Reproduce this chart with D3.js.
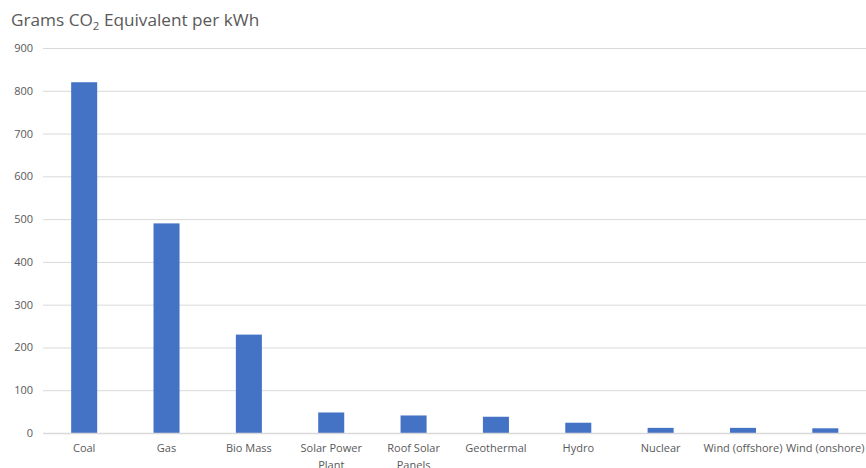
<!DOCTYPE html>
<html>
<head>
<meta charset="utf-8">
<script src="https://cdn.jsdelivr.net/npm/d3@7"></script>
<style>
  html, body { margin: 0; padding: 0; background: #fff; }
  svg { display: block; font-family: "Open Sans", "Noto Sans", sans-serif; }
</style>
</head>
<body>
<svg id="chart" width="866" height="468"></svg>
<script>
// Life-cycle emissions by generation source
const categories = ["Coal", "Gas", "Bio Mass", "Solar Power Plant", "Roof Solar Panels",
                    "Geothermal", "Hydro", "Nuclear", "Wind (offshore)", "Wind (onshore)"];
const emissions = [820, 490, 230, 48, 41, 38, 24, 12, 12, 11];
const yTicks = [0, 100, 200, 300, 400, 500, 600, 700, 800, 900];

const width = 866, height = 468;
const margin = { top: 48, right: 0, bottom: 35, left: 43 };
const textColor = "#595959";

const svg = d3.select("#chart");

const x = d3.scaleBand()
  .domain(categories)
  .range([margin.left, 866.5])
  .paddingInner(0.684)
  .paddingOuter(0.342);

const y = d3.scaleLinear()
  .domain([0, 900])
  .range([height - margin.bottom, margin.top]);

// Title with subscript
const title = svg.append("text")
  .attr("x", 11)
  .attr("y", 26)
  .attr("fill", textColor)
  .attr("font-size", 17.2);
title.append("tspan").text("Grams CO");
title.append("tspan").attr("font-size", 11.5).attr("dy", 4).text("2");
title.append("tspan").attr("dy", -4).text(" Equivalent per kWh");

// Horizontal gridlines and y tick labels
const yAxis = d3.axisLeft(y)
  .tickValues(yTicks)
  .tickSize(-(width - margin.left))
  .tickPadding(10);

const yg = svg.append("g")
  .attr("transform", `translate(${margin.left},0)`)
  .call(yAxis);
yg.select(".domain").remove();
yg.selectAll(".tick line")
  .attr("stroke", "#d9d9d9")
  .attr("stroke-width", 1);
yg.selectAll(".tick text")
  .attr("fill", textColor)
  .attr("font-size", 11)
  .attr("font-family", "'Open Sans', 'Noto Sans', sans-serif");

// Bars
svg.append("g")
  .selectAll("rect")
  .data(categories)
  .join("rect")
  .attr("x", d => x(d))
  .attr("width", x.bandwidth())
  .attr("y", (d, i) => y(emissions[i]))
  .attr("height", (d, i) => y(0) - y(emissions[i]))
  .attr("fill", "#4472c4");

// Baseline
svg.append("line")
  .attr("x1", margin.left)
  .attr("x2", width)
  .attr("y1", y(0) + 0.5)
  .attr("y2", y(0) + 0.5)
  .attr("stroke", "#d9d9d9")
  .attr("stroke-width", 1.5);

// Category axis; labels wider than the band wrap onto a second line
const xAxis = d3.axisBottom(x).tickSize(0).tickPadding(11);
const xg = svg.append("g")
  .attr("transform", `translate(0,${y(0)})`)
  .call(xAxis);
xg.select(".domain").remove();
xg.selectAll(".tick text")
  .attr("fill", textColor)
  .attr("font-size", 11)
  .attr("font-family", "'Open Sans', 'Noto Sans', sans-serif")
  .each(function (d) {
    const t = d3.select(this);
    const maxW = x.step() + 6;
    const words = d.split(" ");
    t.text(null);
    let line = [];
    let tspan = t.append("tspan").attr("x", 0);
    for (const w of words) {
      line.push(w);
      tspan.text(line.join(" "));
      if (tspan.node().getComputedTextLength() > maxW && line.length > 1) {
        line.pop();
        tspan.text(line.join(" "));
        line = [w];
        tspan = t.append("tspan").attr("x", 0).attr("dy", 17).text(w);
      }
    }
  });
</script>
</body>
</html>
